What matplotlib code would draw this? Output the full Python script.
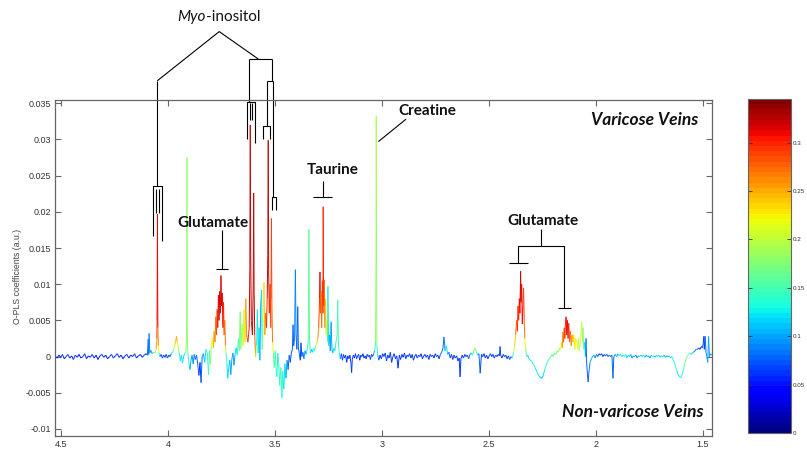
import numpy as np
import matplotlib
matplotlib.use("Agg")
import matplotlib.pyplot as plt
from matplotlib.collections import LineCollection
from matplotlib.colors import Normalize
from matplotlib.cm import ScalarMappable
from matplotlib.ticker import FuncFormatter

# ---------------- data (ppm, O-PLS coefficient x1e-3, correlation) ----------------
ppm = [
    4.530,4.520,4.512,4.503,4.495,4.487,4.478,4.470,4.461,4.452,
    4.444,4.435,4.426,4.418,4.409,4.400,4.391,4.383,4.374,4.365,
    4.356,4.347,4.338,4.329,4.320,4.311,4.302,4.293,4.284,4.275,
    4.266,4.257,4.248,4.239,4.230,4.221,4.212,4.203,4.194,4.185,
    4.176,4.167,4.158,4.149,4.140,4.131,4.122,4.113,4.104,
    4.098,4.094,4.092,4.090,4.087,4.082,4.076,4.070,4.062,4.057,
    4.054,4.053,4.052,4.051,4.050,4.049,4.047,4.044,4.040,4.034,
    4.028,4.022,4.016,4.010,4.004,3.998,3.992,3.986,
    3.980,3.975,3.970,3.965,3.962,3.958,3.954,3.949,3.944,3.939,
    3.934,3.929,3.924,3.917,3.914,3.913,3.912,3.909,3.904,3.899,
    3.894,3.889,3.884,3.879,3.874,3.868,3.862,3.857,3.852,3.847,
    3.842,3.836,3.830,3.824,3.818,3.812,3.808,3.803,3.799,
    3.795,3.790,3.786,3.782,3.778,3.775,3.772,3.769,3.766,3.763,
    3.760,3.757,3.754,3.751,3.748,3.745,3.742,3.739,3.736,3.733,
    3.730,3.726,3.722,3.718,3.713,3.708,3.703,
    3.698,3.693,3.688,3.683,3.678,3.672,3.668,3.664,3.661,3.655,
    3.651,3.646,3.642,3.638,3.634,3.628,3.622,3.619,3.617,3.615,
    3.612,3.607,3.603,3.601,3.599,3.596,3.592,3.588,3.584,3.580,
    3.576,3.572,3.568,3.564,3.561,3.557,3.553,3.549,3.545,3.541,
    3.538,3.535,3.533,3.531,3.528,3.524,3.521,3.518,3.516,3.513,
    3.509,3.505,3.500,3.496,3.492,3.488,3.484,3.479,3.474,3.469,
    3.465,3.460,3.455,3.450,3.445,3.440,3.435,3.430,3.425,3.420,
    3.417,3.414,3.410,3.406,3.403,
    3.399,3.395,3.392,3.387,3.383,3.380,3.376,3.371,3.366,3.361,
    3.356,3.351,3.346,3.343,3.340,3.336,3.331,3.326,3.321,3.316,
    3.311,3.306,3.301,3.297,3.293,3.291,3.289,3.286,3.283,3.280,
    3.277,3.276,3.274,3.271,3.268,3.265,3.262,3.259,3.256,3.254,
    3.251,3.247,3.243,3.239,3.235,3.231,3.226,3.221,3.216,3.211,
    3.208,3.205,3.201,
    3.196,3.191,3.186,3.181,3.176,3.171,3.166,3.161,3.156,3.151,
    3.146,3.143,3.140,3.135,3.130,3.125,3.120,3.115,3.110,3.105,
    3.100,3.095,3.090,3.085,3.080,3.075,3.070,3.065,3.060,3.055,
    3.050,3.045,3.040,3.035,
    3.031,3.029,3.028,3.027,3.025,3.021,3.016,
    3.010,3.004,2.998,2.992,2.986,2.980,2.974,2.968,2.962,2.956,
    2.950,2.944,2.938,2.932,2.926,2.920,2.914,2.908,2.902,2.896,
    2.890,2.884,2.878,2.872,2.866,2.860,2.854,2.848,2.842,2.836,
    2.830,2.824,2.818,2.812,2.806,2.800,2.794,2.788,2.782,2.776,
    2.770,2.764,2.758,2.752,2.746,2.740,2.734,2.728,2.722,2.716,
    2.711,2.706,2.700,2.694,2.688,2.682,2.676,2.670,2.664,2.658,
    2.652,2.646,2.640,2.636,2.632,2.626,2.620,2.614,2.608,2.602,
    2.596,2.590,2.584,2.578,2.572,2.566,2.560,2.554,2.548,2.542,
    2.536,2.530,2.524,2.518,2.512,2.506,
    2.500,2.494,2.488,2.482,2.476,2.470,2.464,2.458,2.452,2.449,
    2.446,2.440,2.434,2.428,2.422,2.416,2.410,2.404,
    2.398,2.392,2.386,2.381,2.376,2.372,2.368,2.365,2.362,2.359,
    2.356,2.353,2.351,2.348,2.345,2.342,2.339,2.336,2.333,2.329,
    2.325,
    2.320,2.314,2.308,2.302,2.296,2.290,2.284,2.278,2.272,2.266,
    2.260,2.254,2.248,2.242,2.236,2.230,2.224,2.218,2.212,2.206,
    2.200,2.194,2.188,2.182,2.176,2.170,
    2.166,2.162,2.158,2.155,2.152,2.149,2.146,2.143,2.140,2.137,
    2.134,2.131,2.128,2.124,2.120,2.116,2.112,2.108,2.104,2.099,
    2.095,2.090,2.086,2.082,2.078,2.074,2.070,2.067,2.064,2.061,
    2.058,2.054,2.050,2.047,2.044,
    2.040,2.037,2.033,2.028,2.022,2.016,2.010,2.004,1.998,1.992,
    1.986,1.980,1.974,1.968,1.962,1.956,1.950,1.944,1.938,1.932,
    1.926,1.921,1.917,1.910,1.904,1.898,1.892,1.886,1.880,1.874,
    1.868,1.862,1.856,1.850,1.844,1.838,1.832,1.826,1.820,1.814,
    1.808,1.802,1.796,1.790,1.784,1.778,1.772,1.766,1.760,1.754,
    1.748,1.742,1.736,1.730,1.724,1.718,1.712,1.706,1.700,1.694,
    1.688,1.682,1.676,1.670,
    1.664,1.658,1.652,1.646,1.640,1.634,1.628,1.622,1.616,1.610,
    1.604,1.598,1.592,1.586,1.580,1.574,1.568,1.562,1.556,1.550,
    1.544,1.538,1.532,1.526,1.520,1.514,1.508,1.503,1.499,1.496,
    1.494,1.490,1.486,1.482,1.478,1.474,1.470,1.465,1.458,
]

coef_milli = [
    0.1,-0.2,0.2,-0.1,0.3,-0.3,0.0,0.3,-0.2,0.1,
    -0.4,0.2,-0.1,0.3,-0.2,0.0,0.4,-0.3,0.1,-0.1,
    0.3,-0.2,0.2,-0.4,0.1,0.3,-0.1,0.2,-0.3,0.0,
    0.3,-0.2,0.1,0.4,-0.1,0.2,-0.3,0.1,0.3,-0.2,
    0.2,0.0,0.4,-0.2,0.1,0.3,-0.1,0.2,0.4,
    0.2,2.4,0.3,3.2,0.5,0.9,0.4,0.6,0.5,1.0,
    2.5,5.0,10.5,19.7,10.0,4.0,1.5,0.6,0.0,0.3,
    -0.2,0.2,-0.1,0.3,-0.2,0.2,0.0,0.4,
    0.6,1.0,1.6,2.3,2.8,2.0,1.2,0.5,-0.6,0.2,
    -0.9,0.0,0.4,0.8,5.0,27.5,4.0,0.5,-0.8,-1.8,
    -0.5,0.2,-1.0,0.3,-0.4,0.2,-1.2,-2.6,-0.8,-3.6,
    0.0,0.4,-0.8,1.0,0.5,-2.5,0.8,-1.0,1.5,
    2.5,1.2,3.5,2.0,5.5,3.0,6.5,4.0,8.5,5.0,
    9.0,6.0,11.2,7.0,8.8,4.0,7.5,3.0,5.0,1.5,
    0.5,-1.0,-3.0,-1.5,-0.5,-2.5,-0.3,
    0.5,-1.2,0.3,1.2,0.2,2.5,0.8,6.2,1.0,4.5,
    1.5,6.5,2.0,8.0,3.0,2.0,4.0,12.0,32.0,14.0,
    5.0,3.0,10.0,22.6,9.0,3.0,0.0,1.5,6.5,0.5,
    4.0,-0.5,7.0,9.2,1.0,5.0,10.2,3.0,6.0,4.0,
    8.0,14.0,29.9,12.0,6.0,10.0,4.0,19.1,8.0,2.0,
    0.5,-1.5,0.8,-2.0,-2.8,0.5,-1.0,-4.0,-1.5,-5.7,
    -2.0,-4.5,-1.0,-3.0,-0.5,-1.8,0.2,-0.8,0.5,1.0,
    4.4,1.5,2.5,12.0,3.0,
    1.0,6.9,1.2,0.3,-0.5,1.9,0.0,0.6,-0.3,0.8,
    0.3,1.0,2.0,17.6,2.5,0.5,1.0,0.6,1.2,0.8,
    1.5,1.8,2.5,4.0,8.0,11.7,6.0,9.0,4.0,10.5,
    6.0,20.7,7.0,10.6,4.0,8.0,3.0,5.0,2.0,9.7,
    1.5,3.0,0.8,4.8,1.0,0.5,1.2,0.8,2.0,3.0,
    7.8,2.0,0.5,
    -0.3,0.4,-0.5,0.3,-0.2,0.2,-0.8,0.1,-0.3,0.2,
    -1.0,-2.2,-0.4,0.2,-0.2,0.4,-0.3,0.1,0.3,-0.5,
    0.2,0.0,0.4,-0.2,0.1,-0.3,0.3,0.0,0.2,-0.4,
    0.3,0.0,0.4,0.8,
    2.0,13.0,33.2,21.0,1.5,0.3,-0.5,
    0.2,-0.3,0.4,0.0,0.5,-0.6,0.2,-0.2,0.6,-0.8,
    0.0,0.4,-0.3,0.1,-1.6,0.2,-0.4,0.3,-0.1,0.5,
    -0.3,0.2,0.0,0.4,-0.2,0.3,-0.5,0.1,0.3,-0.2,
    0.2,0.0,0.4,-0.3,0.1,0.3,-0.1,0.2,-0.4,0.3,
    0.0,0.2,-0.2,0.4,0.0,0.2,-0.3,0.3,0.6,1.2,
    2.7,0.8,1.5,0.3,0.6,-0.2,0.3,-0.4,0.2,-0.2,
    0.1,-0.6,-0.2,-2.8,-0.3,0.2,-0.2,0.3,0.0,0.2,
    -0.3,0.3,0.5,0.2,0.8,1.2,0.6,0.2,0.4,-2.3,
    0.3,0.0,0.4,-0.2,0.2,-0.3,
    0.1,0.4,0.0,0.3,-0.2,0.2,0.0,0.3,0.1,1.4,
    0.2,-0.2,0.3,0.0,0.2,-0.3,0.1,-0.4,
    0.0,-0.2,0.5,1.5,3.0,5.0,3.5,7.0,5.0,8.0,
    6.0,11.8,7.5,10.0,4.5,7.0,9.5,5.0,2.5,1.0,
    0.0,
    0.2,-0.3,-0.5,-0.6,-1.0,-1.2,-1.6,-2.0,-2.4,-2.7,
    -2.9,-3.0,-2.7,-2.0,-1.4,-0.9,-0.5,-0.2,0.0,0.3,
    0.0,0.5,0.3,0.8,0.6,1.2,
    1.0,2.0,1.2,3.4,2.0,4.0,2.5,4.8,5.5,3.0,
    5.0,2.5,4.6,2.0,3.5,1.5,3.0,2.0,3.0,1.0,
    2.5,2.0,1.0,2.5,0.8,2.0,3.5,4.8,2.0,4.0,
    1.0,2.0,0.0,2.5,-1.0,
    -2.5,-3.5,-2.0,-0.8,-0.3,0.0,0.2,-0.2,0.3,0.0,
    0.4,0.2,0.4,0.0,0.3,0.1,0.3,0.0,0.2,0.0,
    0.2,-3.0,0.0,0.3,0.0,0.4,0.1,0.3,0.0,0.2,
    0.0,0.3,-0.2,0.2,0.0,0.3,-0.2,0.1,0.0,0.2,
    -0.2,0.1,0.0,0.2,0.0,0.2,-0.1,0.2,0.0,0.1,
    -0.2,0.2,0.0,0.1,-0.1,0.2,0.0,0.2,-0.1,0.1,
    0.0,0.2,-0.1,0.1,
    0.0,0.1,-0.2,0.0,-0.4,-0.8,-1.4,-2.0,-2.5,-2.8,
    -2.9,-2.6,-1.8,-1.0,-0.4,0.0,0.3,0.5,0.3,0.5,
    0.6,0.8,1.0,1.0,1.2,1.0,1.4,1.2,1.8,2.8,
    1.0,2.8,0.6,0.0,-0.8,2.8,0.0,0.4,0.2,
]

corr = [
    .05,.05,.05,.05,.06,.05,.05,.06,.05,.05,
    .05,.06,.05,.05,.05,.05,.06,.05,.05,.05,
    .06,.05,.05,.05,.05,.06,.05,.05,.05,.05,
    .06,.05,.05,.06,.05,.05,.05,.05,.06,.05,
    .05,.05,.06,.05,.05,.05,.05,.06,.06,
    .07,.08,.08,.09,.08,.10,.10,.12,.14,.20,
    .25,.29,.31,.29,.31,.27,.22,.15,.08,.06,
    .06,.06,.06,.06,.06,.07,.07,.08,
    .12,.16,.20,.24,.25,.22,.18,.14,.12,.10,
    .12,.10,.12,.15,.18,.17,.18,.14,.12,.10,
    .10,.10,.09,.09,.08,.08,.08,.06,.06,.05,
    .08,.10,.08,.12,.14,.08,.15,.10,.18,
    .22,.20,.25,.24,.27,.26,.29,.28,.31,.30,
    .32,.31,.30,.32,.31,.28,.30,.25,.27,.20,
    .15,.12,.11,.12,.10,.09,.10,
    .10,.08,.10,.12,.12,.14,.15,.17,.15,.18,
    .20,.21,.22,.24,.26,.28,.30,.32,.31,.32,
    .31,.30,.32,.31,.32,.28,.20,.14,.12,.10,
    .12,.10,.10,.08,.12,.18,.22,.24,.26,.28,
    .30,.32,.30,.32,.30,.29,.27,.29,.27,.22,
    .16,.12,.15,.13,.12,.14,.12,.13,.15,.14,
    .13,.12,.12,.10,.09,.08,.08,.07,.07,.07,
    .08,.08,.08,.09,.08,
    .07,.08,.08,.07,.07,.07,.07,.08,.08,.10,
    .10,.12,.14,.16,.14,.12,.10,.10,.12,.14,
    .16,.20,.24,.26,.29,.31,.28,.27,.26,.27,
    .29,.30,.29,.27,.25,.24,.22,.20,.15,.10,
    .12,.10,.10,.08,.10,.10,.12,.12,.14,.15,
    .15,.14,.12,
    .09,.07,.06,.06,.06,.06,.06,.06,.06,.06,
    .06,.06,.06,.06,.06,.06,.06,.06,.06,.06,
    .06,.06,.06,.06,.06,.06,.06,.06,.06,.06,
    .06,.07,.08,.10,
    .14,.18,.19,.18,.14,.10,.07,
    .06,.06,.06,.06,.07,.06,.06,.06,.06,.06,
    .06,.06,.06,.06,.06,.06,.06,.06,.06,.06,
    .06,.06,.06,.06,.06,.06,.06,.06,.06,.06,
    .06,.06,.06,.06,.06,.06,.06,.06,.06,.06,
    .06,.06,.06,.06,.06,.06,.06,.07,.08,.08,
    .08,.09,.12,.10,.08,.07,.06,.06,.06,.06,
    .06,.06,.06,.05,.06,.06,.06,.06,.06,.07,
    .07,.08,.10,.12,.15,.18,.14,.10,.08,.07,
    .06,.06,.06,.06,.06,.06,
    .06,.06,.06,.06,.06,.06,.06,.06,.06,.07,
    .06,.06,.06,.06,.06,.06,.06,.07,
    .08,.10,.14,.20,.24,.27,.28,.30,.29,.30,
    .31,.31,.32,.30,.31,.30,.29,.27,.22,.16,
    .13,
    .12,.12,.12,.13,.14,.13,.12,.12,.12,.11,
    .10,.10,.11,.12,.13,.14,.14,.15,.15,.16,
    .16,.16,.17,.17,.18,.18,
    .20,.22,.24,.26,.27,.28,.29,.30,.31,.30,
    .31,.29,.30,.28,.27,.26,.25,.24,.23,.22,
    .21,.22,.20,.20,.19,.20,.21,.21,.19,.17,
    .15,.12,.10,.08,.08,
    .07,.07,.08,.09,.10,.10,.10,.09,.08,.08,
    .07,.07,.07,.07,.07,.07,.08,.08,.08,.08,
    .08,.06,.08,.09,.10,.11,.12,.12,.12,.13,
    .13,.12,.12,.12,.11,.10,.10,.10,.10,.09,
    .09,.10,.11,.12,.12,.12,.11,.10,.10,.10,
    .10,.11,.12,.12,.12,.12,.12,.12,.12,.12,
    .12,.11,.10,.10,
    .10,.11,.12,.12,.13,.13,.13,.12,.12,.12,
    .12,.13,.14,.15,.16,.17,.16,.14,.12,.10,
    .09,.08,.07,.07,.07,.07,.07,.07,.07,.07,
    .07,.07,.08,.09,.10,.07,.10,.10,.10,
]

x_ticks = [4.5, 4.0, 3.5, 3.0, 2.5, 2.0, 1.5]
y_ticks = [-0.01, -0.005, 0, 0.005, 0.01, 0.015, 0.02, 0.025, 0.03, 0.035]
cbar_ticks = [0, 0.05, 0.1, 0.15, 0.2, 0.25, 0.3]

# bracket annotations (ppm, coefficient)
myo_lines = [
    [(4.052, 0.0381), (3.762, 0.0449), (3.579, 0.0411)],
    [(4.052, 0.0381), (4.052, 0.0235)],
    [(4.071, 0.0167), (4.071, 0.0235), (4.031, 0.0235), (4.031, 0.0160)],
    [(4.058, 0.0231), (4.058, 0.0199)],
    [(4.044, 0.0231), (4.044, 0.0199)],
    [(3.623, 0.0411), (3.517, 0.0411)],
    [(3.623, 0.0411), (3.623, 0.0352)],
    [(3.631, 0.0301), (3.631, 0.0352), (3.595, 0.0352), (3.595, 0.0295)],
    [(3.618, 0.0350), (3.618, 0.0327)],
    [(3.608, 0.0350), (3.608, 0.0327)],
    [(3.517, 0.0411), (3.517, 0.0381)],
    [(3.537, 0.0381), (3.509, 0.0381)],
    [(3.537, 0.0381), (3.537, 0.0318)],
    [(3.556, 0.0300), (3.556, 0.0318), (3.524, 0.0318), (3.524, 0.0300)],
    [(3.509, 0.0381), (3.509, 0.0221)],
    [(3.517, 0.0203), (3.517, 0.0221), (3.498, 0.0221), (3.498, 0.0203)],
]
glu1_lines = [
    [(3.751, 0.0175), (3.751, 0.0121)],
    [(3.777, 0.0121), (3.720, 0.0121)],
]
tau_lines = [
    [(3.278, 0.0242), (3.278, 0.0220)],
    [(3.322, 0.0220), (3.236, 0.0220)],
]
cre_lines = [
    [(2.889, 0.0328), (3.018, 0.0297)],
]
glu2_lines = [
    [(2.257, 0.0176), (2.257, 0.0153)],
    [(2.363, 0.0129), (2.363, 0.0153), (2.148, 0.0153), (2.148, 0.0067)],
    [(2.407, 0.0129), (2.319, 0.0129)],
    [(2.176, 0.0067), (2.118, 0.0067)],
]

assert len(ppm) == len(coef_milli) == len(corr), (len(ppm), len(coef_milli), len(corr))

# ---------------- figure ----------------
W, H = 807, 450
fig = plt.figure(figsize=(W / 100, H / 100), dpi=100)
ax = fig.add_axes([55 / W, (H - 436) / H, 657 / W, 336 / H])

x = np.array(ppm)
y = np.array(coef_milli) * 1e-3
c = np.array(corr)
pts = np.column_stack([x, y]).reshape(-1, 1, 2)
segs = np.concatenate([pts[:-1], pts[1:]], axis=1)
cmap = plt.get_cmap("jet", 64)
norm = Normalize(vmin=0, vmax=0.345)
seg_c = np.maximum(c[:-1], c[1:])
lc = LineCollection(segs, cmap=cmap, norm=norm, linewidths=0.7)
lc.set_array(seg_c)
ax.add_collection(lc)

ax.set_xlim(4.530, 1.458)
ax.set_ylim(-0.01097, 0.03545)

for s in ax.spines.values():
    s.set_color("#666666")
    s.set_linewidth(0.9)
ax.set_xticks(x_ticks)
ax.set_yticks(y_ticks)
ax.xaxis.set_major_formatter(FuncFormatter(lambda v, p: "%g" % v))
ax.yaxis.set_major_formatter(FuncFormatter(lambda v, p: "%g" % round(v, 4)))
ax.tick_params(direction="in", length=4, width=0.8, color="#666666",
               top=True, right=True, labelsize=6.5, labelcolor="#333333", pad=3)
for lab in ax.get_xticklabels() + ax.get_yticklabels():
    lab.set_family("Liberation Sans")
ax.set_ylabel("O-PLS coefficients (a.u.)", fontsize=6.3, color="#444444",
              family="Liberation Sans")
ax.yaxis.set_label_coords(-0.050, 0.476)

# annotations
def draw(lines):
    for ln in lines:
        xs, ys = zip(*ln)
        ax.plot(xs, ys, color="black", lw=0.8, clip_on=False, solid_capstyle="butt")

for group in (myo_lines, glu1_lines, tau_lines, cre_lines, glu2_lines):
    draw(group)

tf = dict(family="Lato", fontsize=11, color="#111111", va="center")
ax.text(3.826, 0.0469, "Myo", ha="right", style="italic", clip_on=False, **tf)
ax.text(3.826, 0.0469, "-inositol", ha="left", clip_on=False, **tf)
ax.text(3.790, 0.01845, "Glutamate", ha="center", weight="bold", **tf)
ax.text(3.231, 0.02577, "Taurine", ha="center", weight="bold", **tf)
ax.text(2.787, 0.0339, "Creatine", ha="center", weight="bold", **tf)
ax.text(2.249, 0.01873, "Glutamate", ha="center", weight="bold", **tf)
ax.text(1.523, 0.03267, "Varicose Veins", ha="right", va="center", family="Lato",
        fontsize=12.5, weight="bold", style="italic", color="#111111")
ax.text(1.500, -0.00761, "Non-varicose Veins", ha="right", va="center", family="Lato",
        fontsize=12.5, weight="bold", style="italic", color="#111111")

# colorbar
cax = fig.add_axes([748 / W, (H - 433) / H, 43 / W, 334 / H])
sm = ScalarMappable(norm=norm, cmap=cmap)
cb = fig.colorbar(sm, cax=cax, ticks=cbar_ticks)
cb.outline.set_edgecolor("#666666")
cb.outline.set_linewidth(0.8)
cax.yaxis.set_major_formatter(FuncFormatter(lambda v, p: "%g" % round(v, 3)))
cax.tick_params(direction="in", length=3, width=0.6, color="#333333",
                left=True, right=True, labelsize=4.5, labelcolor="#333333", pad=1.5)
for lab in cax.get_yticklabels():
    lab.set_family("Liberation Sans")

fig.savefig("out.png", dpi=100)
